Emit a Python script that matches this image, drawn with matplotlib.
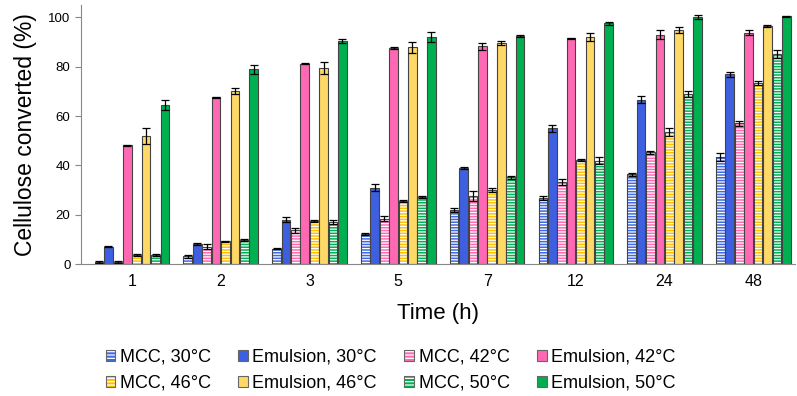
import numpy as np
import matplotlib
matplotlib.use("Agg")
import matplotlib.pyplot as plt
from matplotlib.patches import Patch
from matplotlib.legend_handler import HandlerTuple

plt.rcParams['font.family'] = ['Liberation Sans', 'DejaVu Sans']
plt.rcParams['hatch.linewidth'] = 0.9

times = ['1', '2', '3', '5', '7', '12', '24', '48']

mcc30 = [0.8, 3.1, 6.2, 12.3, 22.0, 26.7, 36.4, 43.4]
mcc30_err = [0.3, 0.5, 0.3, 0.4, 0.8, 0.7, 0.6, 1.5]
emu30 = [7.1, 8.0, 17.9, 30.9, 38.8, 55.0, 66.6, 77.0]
emu30_err = [0.3, 0.4, 1.0, 1.5, 0.4, 1.5, 1.5, 1.0]
mcc42 = [0.9, 7.0, 13.6, 18.3, 27.6, 33.2, 45.4, 57.0]
mcc42_err = [0.3, 1.0, 1.0, 1.0, 2.0, 1.2, 0.6, 1.0]
emu42 = [48.2, 67.7, 81.1, 87.6, 88.3, 91.5, 92.9, 93.7]
emu42_err = [0.2, 0.2, 0.2, 0.4, 1.5, 0.3, 1.8, 1.0]
mcc46 = [3.6, 9.3, 17.4, 25.5, 30.0, 42.2, 53.5, 73.4]
mcc46_err = [0.3, 0.2, 0.3, 0.5, 1.0, 0.3, 1.8, 1.0]
emu46 = [52.0, 70.0, 79.4, 87.9, 89.6, 92.0, 94.9, 96.5]
emu46_err = [3.2, 1.2, 2.3, 2.2, 1.0, 1.5, 1.2, 0.5]
mcc50 = [3.6, 9.8, 17.1, 27.1, 35.2, 41.9, 68.9, 85.2]
mcc50_err = [0.3, 0.3, 0.8, 0.5, 0.6, 1.5, 1.2, 1.5]
emu50 = [64.5, 79.0, 90.4, 92.0, 92.5, 97.7, 100.1, 100.4]
emu50_err = [2.0, 1.8, 0.8, 2.0, 0.3, 0.6, 0.8, 0.3]

series = [
    ('MCC, 30°C', mcc30, mcc30_err, '#4169e1', True),
    ('Emulsion, 30°C', emu30, emu30_err, '#3d5fe0', False),
    ('MCC, 42°C', mcc42, mcc42_err, '#ff69b4', True),
    ('Emulsion, 42°C', emu42, emu42_err, '#ff69b4', False),
    ('MCC, 46°C', mcc46, mcc46_err, '#ffc000', True),
    ('Emulsion, 46°C', emu46, emu46_err, '#ffd966', False),
    ('MCC, 50°C', mcc50, mcc50_err, '#00b050', True),
    ('Emulsion, 50°C', emu50, emu50_err, '#00b050', False),
]

fig = plt.figure(figsize=(7.97, 3.96), dpi=100)
ax = fig.add_axes([0.1016, 0.3333, 0.896, 0.654])

x = np.arange(len(times))
pitch = 0.106
width = 0.098
edge = '#444444'
handles = []
for i, (name, vals, errs, col, hatched) in enumerate(series):
    pos = x + (i - 3.5) * pitch
    outline = Patch(fill=False, edgecolor='#666666', linewidth=0.8)
    if hatched:
        ax.bar(pos, vals, width, color=col, edgecolor='white', hatch='------', linewidth=0)
        ax.bar(pos, vals, width, fill=False, edgecolor=edge, linewidth=0.8)
        h = (Patch(facecolor=col, edgecolor='white', hatch='-----', linewidth=0), outline)
    else:
        ax.bar(pos, vals, width, color=col, edgecolor=edge, linewidth=0.8)
        h = (Patch(facecolor=col, linewidth=0), outline)
    ax.errorbar(pos, vals, yerr=errs, fmt='none', ecolor='black', elinewidth=0.9, capsize=2.8, capthick=0.9)
    handles.append((h, name))

ax.set_xlim(-0.575, 7.47)
ax.set_ylim(0, 105)
ax.set_yticks([0, 20, 40, 60, 80, 100])
ax.set_xticks(x)
ax.set_xticklabels(times, fontsize=11.5)
ax.tick_params(axis='x', length=0, pad=7)
ax.tick_params(axis='y', labelsize=9.5, length=4, color='#888888', direction='out')
for s in ['top', 'right']:
    ax.spines[s].set_visible(False)
ax.spines['left'].set_color('#888888')
ax.spines['bottom'].set_color('#888888')
ax.set_xlabel('Time (h)', fontsize=16, labelpad=10)
ax.set_ylabel('Cellulose converted (%)', fontsize=16.5, labelpad=8)

# legend is filled column-wise, so reorder to get the row-wise layout
order = [0, 4, 1, 5, 2, 6, 3, 7]
fig.legend([handles[k][0] for k in order], [handles[k][1] for k in order],
           handler_map={tuple: HandlerTuple(ndivide=1, pad=0)},
           ncol=4, loc='center', bbox_to_anchor=(0.49, 0.065), frameon=False,
           fontsize=13, handlelength=0.55, handleheight=0.55, handletextpad=0.25,
           columnspacing=1.5, labelspacing=0.5)

fig.savefig('out.png', dpi=100)
